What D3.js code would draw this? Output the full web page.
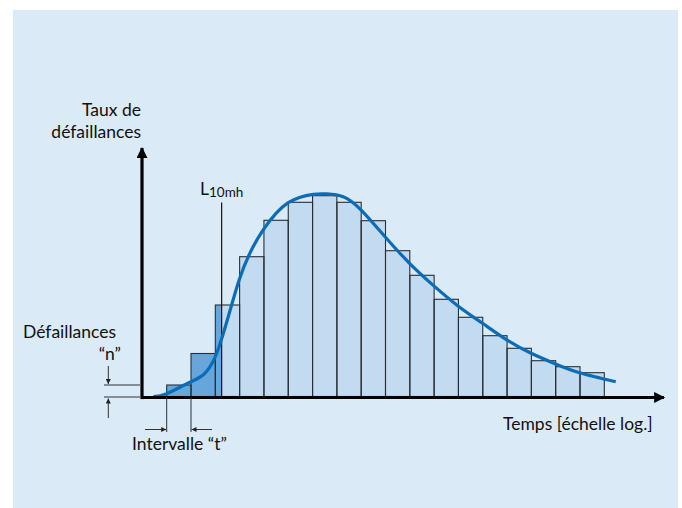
<!DOCTYPE html>
<html>
<head>
<meta charset="utf-8">
<script src="https://cdn.jsdelivr.net/npm/d3@7"></script>
<style>
  body { margin: 0; background: #fff; }
  svg text { font-family: Lato, "Open Sans", sans-serif; fill: #111; }
</style>
</head>
<body>
<svg id="chart" width="682" height="508"></svg>
<script>
// failures per time interval (relative units)
const failures = [5.75, 21.5, 45.75, 69.9, 88.1, 97.1, 100.4, 97.1, 87.9, 72.9, 60.6, 48.6, 39.6, 30.4, 24.1, 17.9, 14.9, 11.9];

// fitted density curve, sampled along the interval index
const curveT = [-0.55, 0, 1, 2, 2.98, 3.97, 5.0, 6.03, 6.58, 7.26, 7.99, 8.98, 9.99, 10.99, 11.98, 12.99, 13.99, 14.99, 15.99, 16.99, 18.47];
const curveRate = [0, 1.4, 7.4, 19.9, 58.3, 83.3, 96.9, 101.1, 101.3, 99.9, 93.3, 79.9, 66.6, 55.3, 45.3, 36.6, 28.3, 21.6, 16.3, 11.9, 7.4];

const l10 = 2.26; // L10mh position on the interval axis

const svg = d3.select('#chart');

const x = d3.scaleLinear().domain([0, failures.length]).range([166.7, 604.3]);
const y = d3.scaleLinear().domain([0, 100]).range([396.5, 196.5]);

const origin = { x: 142, y: 397.5 };

// panel background
svg.append('rect')
  .attr('x', 13).attr('y', 10)
  .attr('width', 665).attr('height', 498)
  .attr('fill', '#daeaf7');

svg.append('defs').html(`
  <marker id="arrowBig" viewBox="0 0 10 10" refX="9" refY="5" markerWidth="16" markerHeight="11" markerUnits="userSpaceOnUse" orient="auto">
    <path d="M0,0 L10,5 L0,10 z" fill="#000"/>
  </marker>
  <marker id="arrowSmall" viewBox="0 0 10 10" refX="10" refY="5" markerWidth="9" markerHeight="5" markerUnits="userSpaceOnUse" orient="auto">
    <path d="M0,0 L10,5 L0,10 z" fill="#222"/>
  </marker>`);

// bars
const bw = x(1) - x(0);
const bars = svg.append('g');
bars.selectAll('rect.light')
  .data(failures)
  .enter()
  .append('rect')
  .attr('class', 'light')
  .attr('x', (d, i) => x(i))
  .attr('y', (d) => y(d))
  .attr('width', bw)
  .attr('height', (d) => y(0) - y(d))
  .attr('fill', '#c2dbf0');

// intervals before L10mh are shaded darker
bars.selectAll('rect.dark')
  .data(failures.filter((d, i) => i < l10))
  .enter()
  .append('rect')
  .attr('class', 'dark')
  .attr('x', (d, i) => x(i))
  .attr('y', (d) => y(d))
  .attr('width', (d, i) => x(Math.min(i + 1, l10)) - x(i))
  .attr('height', (d) => y(0) - y(d))
  .attr('fill', '#67a6da');

bars.selectAll('rect.outline')
  .data(failures)
  .enter()
  .append('rect')
  .attr('class', 'outline')
  .attr('x', (d, i) => x(i))
  .attr('y', (d) => y(d))
  .attr('width', bw)
  .attr('height', (d) => y(0) - y(d))
  .attr('fill', 'none')
  .attr('stroke', '#2a2f33')
  .attr('stroke-width', 1.1);

// L10mh marker
svg.append('line')
  .attr('x1', x(l10)).attr('x2', x(l10))
  .attr('y1', 202.5).attr('y2', y(0))
  .attr('stroke', '#111').attr('stroke-width', 1.2);

const lab = svg.append('text')
  .attr('x', 200).attr('y', 194.5)
  .attr('font-size', 17.5);
lab.append('tspan').text('L');
lab.append('tspan').attr('font-size', 13.5).attr('dy', 2.5).text('10mh');

// curve
const pts = curveT.map((t, i) => [t, curveRate[i]]);
svg.append('path')
  .datum(pts)
  .attr('fill', 'none')
  .attr('stroke', '#0b6cb7')
  .attr('stroke-width', 3.2)
  .attr('d', d3.line()
    .curve(d3.curveNatural)
    .x((d) => x(d[0]))
    .y((d) => y(d[1])));

// axes
svg.append('line')
  .attr('x1', origin.x).attr('x2', 664)
  .attr('y1', origin.y).attr('y2', origin.y)
  .attr('stroke', '#000').attr('stroke-width', 3.2)
  .attr('marker-end', 'url(#arrowBig)');
svg.append('line')
  .attr('x1', origin.x).attr('x2', origin.x)
  .attr('y1', origin.y + 1.6).attr('y2', 148)
  .attr('stroke', '#000').attr('stroke-width', 3.2)
  .attr('marker-end', 'url(#arrowBig)');

// dimension marks for "n"
const dim = svg.append('g').attr('stroke', '#333').attr('stroke-width', 1);
dim.append('line').attr('x1', 104).attr('x2', 140).attr('y1', y(failures[0])).attr('y2', y(failures[0]));
dim.append('line').attr('x1', 104).attr('x2', 140).attr('y1', y(0) + 0.5).attr('y2', y(0) + 0.5);
dim.append('line').attr('x1', 108.3).attr('x2', 108.3).attr('y1', 366).attr('y2', y(failures[0]) - 1)
  .attr('marker-end', 'url(#arrowSmall)');
dim.append('line').attr('x1', 108.3).attr('x2', 108.3).attr('y1', 418).attr('y2', y(0) + 2)
  .attr('marker-end', 'url(#arrowSmall)');

// dimension marks for "t"
dim.append('line').attr('x1', x(0)).attr('x2', x(0)).attr('y1', origin.y).attr('y2', 432);
dim.append('line').attr('x1', x(1)).attr('x2', x(1)).attr('y1', origin.y).attr('y2', 432);
dim.append('line').attr('x1', 145).attr('x2', x(0) - 0.5).attr('y1', 429.5).attr('y2', 429.5)
  .attr('marker-end', 'url(#arrowSmall)');
dim.append('line').attr('x1', 212).attr('x2', x(1) + 0.5).attr('y1', 429.5).attr('y2', 429.5)
  .attr('marker-end', 'url(#arrowSmall)');

// labels
const fs = 17.5;
svg.append('text').attr('x', 141).attr('y', 116).attr('text-anchor', 'end').attr('font-size', fs).text('Taux de');
svg.append('text').attr('x', 141).attr('y', 137.5).attr('text-anchor', 'end').attr('font-size', fs).text('défaillances');
svg.append('text').attr('x', 23).attr('y', 338).attr('font-size', fs).text('Défaillances');
svg.append('text').attr('x', 121).attr('y', 360).attr('text-anchor', 'end').attr('font-size', fs).text('“n”');
svg.append('text').attr('x', 132).attr('y', 449.5).attr('font-size', fs).text('Intervalle “t”');
svg.append('text').attr('x', 503).attr('y', 429.5).attr('font-size', fs).text('Temps [échelle log.]');
</script>
</body>
</html>
